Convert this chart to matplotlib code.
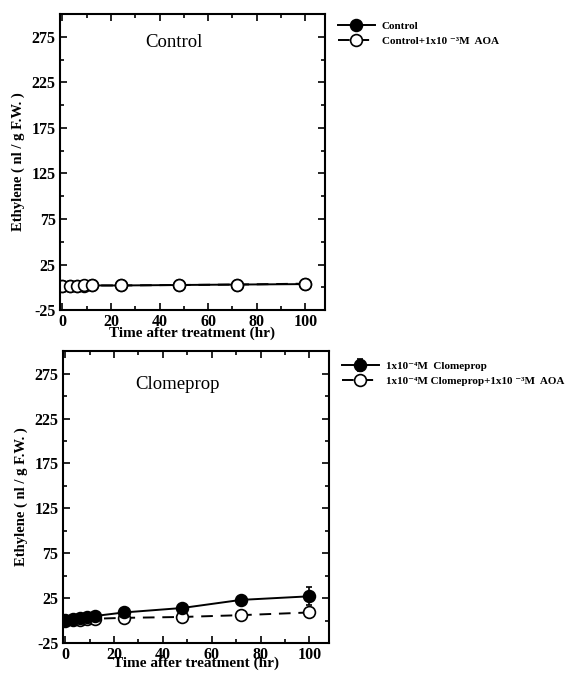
import matplotlib
matplotlib.use("Agg")
import matplotlib.pyplot as plt
from matplotlib.ticker import MultipleLocator

plt.rcParams['font.family'] = ['Liberation Serif', 'DejaVu Serif']
plt.rcParams['font.weight'] = 'bold'
plt.rcParams['axes.unicode_minus'] = False

hours = [0, 3, 6, 9, 12, 24, 48, 72, 100]

# top panel
control = [1, 1.5, 1.5, 1.5, 2, 2, 2.5, 3, 3.5]
control_aoa = [1, 1.5, 1.5, 2, 2, 2, 2.5, 3, 4]

# bottom panel
clomeprop = [1, 2, 3, 4, 5, 9, 14, 23, 27]
clomeprop_err = [0.5, 0.5, 0.5, 0.5, 1, 1.5, 2, 2, 10]
clomeprop_aoa = [0, 1, 1, 2, 2, 3, 4, 6, 9]

yticks = [-25, 25, 75, 125, 175, 225, 275]


def style_axes(ax, xpad):
    ax.set_xlim(-1, 108)
    ax.set_ylim(-25, 300)
    ax.set_yticks(yticks)
    ax.xaxis.set_major_locator(MultipleLocator(20))
    ax.xaxis.set_minor_locator(MultipleLocator(10))
    ax.yaxis.set_minor_locator(MultipleLocator(25))
    ax.tick_params(which='both', direction='in', top=True, right=True,
                   labelsize=11.5, width=1.2, pad=3)
    ax.tick_params(which='major', length=5)
    ax.tick_params(which='minor', length=3)
    for lab in ax.get_xticklabels() + ax.get_yticklabels():
        lab.set_fontweight('bold')
    for s in ax.spines.values():
        s.set_linewidth(1.5)
    ax.set_xlabel('Time after treatment (hr)', fontsize=11, fontweight='bold', labelpad=xpad)
    ax.set_ylabel('Ethylene ( nl / g F.W. )', fontsize=10.5, fontweight='bold', labelpad=5)


fig = plt.figure(figsize=(5.76, 6.74), dpi=100)
ax1 = fig.add_axes([0.104, 0.540, 0.460, 0.439])
ax2 = fig.add_axes([0.109, 0.046, 0.462, 0.433])

mk = dict(marker='o', markersize=8.5, color='black', markeredgewidth=1.2, linewidth=1.4)

h1 = ax1.plot(hours, control, markerfacecolor='black', linestyle='-', label='Control', **mk)[0]
h2 = ax1.plot(hours, control_aoa, markerfacecolor='white', linestyle=(0, (6, 4)),
              label='Control+1x10 \u207b\u00b3M  AOA', **mk)[0]
style_axes(ax1, -3)
ax1.text(0.43, 0.905, 'Control', transform=ax1.transAxes, ha='center', va='center',
         fontsize=13.5, fontweight='normal')
ax1.legend(handles=[h1, h2], loc='upper left', bbox_to_anchor=(1.01, 1.01), frameon=False,
           fontsize=8, handlelength=3.4, handletextpad=0.6, labelspacing=0.5)

h3 = ax2.errorbar(hours, clomeprop, yerr=clomeprop_err, markerfacecolor='black', linestyle='-',
                  capsize=2.5, elinewidth=1.2, label='1x10\u207b\u2074M  Clomeprop', **mk)
h4 = ax2.plot(hours, clomeprop_aoa, markerfacecolor='white', linestyle=(0, (6, 4)),
              label='1x10\u207b\u2074M Clomeprop+1x10 \u207b\u00b3M  AOA', **mk)[0]
style_axes(ax2, -5)
ax2.text(0.43, 0.885, 'Clomeprop', transform=ax2.transAxes, ha='center', va='center',
         fontsize=13.5, fontweight='normal')
ax2.legend(handles=[h3, h4], loc='upper left', bbox_to_anchor=(1.01, 1.0), frameon=False,
           fontsize=8, handlelength=3.4, handletextpad=0.6, labelspacing=0.5)

fig.savefig('out.png', dpi=100)
